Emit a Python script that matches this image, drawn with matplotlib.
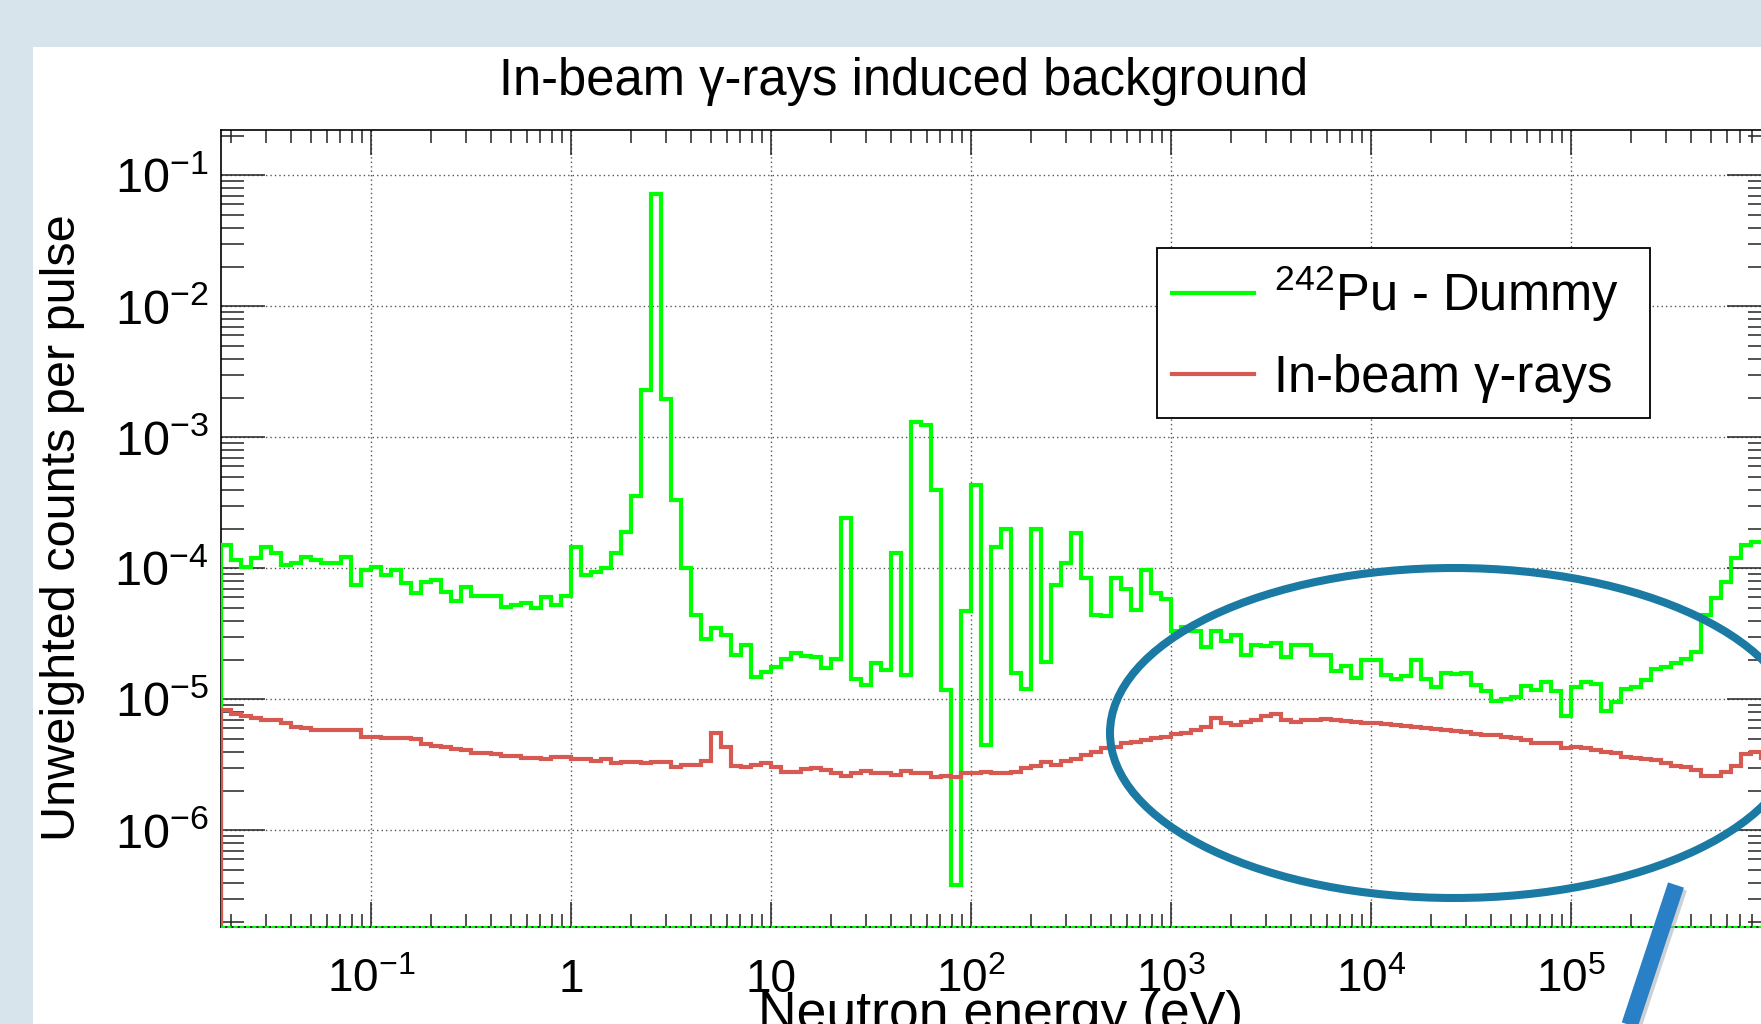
import numpy as np
import matplotlib
matplotlib.use("Agg")
import matplotlib.pyplot as plt
from matplotlib.patches import Ellipse, Rectangle
from matplotlib.lines import Line2D
from matplotlib.ticker import LogLocator, NullFormatter

plt.rcParams['font.family'] = ['Liberation Sans', 'DejaVu Sans']
plt.rcParams['mathtext.fontset'] = 'custom'
plt.rcParams['mathtext.rm'] = 'Liberation Sans'
plt.rcParams['mathtext.it'] = 'Liberation Sans:italic'
plt.rcParams['mathtext.bf'] = 'Liberation Sans:bold'

# histogram binning: equal log bins, 20 per decade
E_LOW = 10 ** -1.75
E_HIGH = 1e6
N_BINS = 155

# 242Pu - Dummy (counts per pulse, per bin)
pu_minus_dummy = [
    1.5e-4, 1.15e-4, 1.03e-4, 1.19e-4, 1.46e-4, 1.30e-4, 1.06e-4, 1.09e-4, 1.23e-4, 1.15e-4,
    1.09e-4, 1.09e-4, 1.23e-4, 7.5e-5, 9.7e-5, 1.03e-4, 8.9e-5, 9.7e-5, 7.7e-5, 6.45e-5,
    7.9e-5, 8.1e-5, 6.6e-5, 5.6e-5, 7.2e-5, 6.1e-5, 6.1e-5, 6.1e-5, 5.1e-5, 5.25e-5,
    5.4e-5, 5.0e-5, 6.0e-5, 5.25e-5, 6.15e-5, 1.46e-4, 8.9e-5, 9.4e-5, 1.0e-4, 1.3e-4,
    1.9e-4, 3.6e-4, 2.3e-3, 7.2e-2, 1.95e-3, 3.3e-4, 1.0e-4, 4.4e-5, 2.9e-5, 3.5e-5,
    3.1e-5, 2.2e-5, 2.6e-5, 1.48e-5, 1.62e-5, 1.78e-5, 2.05e-5, 2.24e-5, 2.15e-5, 2.1e-5,
    1.73e-5, 2.05e-5, 2.41e-4, 1.44e-5, 1.28e-5, 1.88e-5, 1.68e-5, 1.3e-4, 1.53e-5, 1.32e-3,
    1.24e-3, 3.98e-4, 1.18e-5, 3.8e-7, 4.7e-5, 4.3e-4, 4.5e-6, 1.46e-4, 2.0e-4, 1.58e-5,
    1.2e-5, 2.0e-4, 1.94e-5, 7.46e-5, 1.09e-4, 1.85e-4, 8.4e-5, 4.4e-5, 4.3e-5, 8.5e-5,
    7.0e-5, 4.8e-5, 9.7e-5, 6.5e-5, 5.8e-5, 3.3e-5, 3.6e-5, 3.3e-5, 2.5e-5, 3.3e-5,
    2.8e-5, 3.1e-5, 2.2e-5, 2.6e-5, 2.55e-5, 2.7e-5, 2.1e-5, 2.6e-5, 2.6e-5, 2.2e-5,
    2.2e-5, 1.65e-5, 1.8e-5, 1.45e-5, 2.0e-5, 2.0e-5, 1.53e-5, 1.42e-5, 1.52e-5, 2.0e-5,
    1.42e-5, 1.25e-5, 1.6e-5, 1.55e-5, 1.6e-5, 1.28e-5, 1.15e-5, 9.8e-6, 1.0e-5, 1.05e-5,
    1.27e-5, 1.18e-5, 1.35e-5, 1.15e-5, 7.5e-6, 1.25e-5, 1.35e-5, 1.32e-5, 8.2e-6, 9.5e-6,
    1.2e-5, 1.24e-5, 1.4e-5, 1.7e-5, 1.77e-5, 1.9e-5, 2.05e-5, 2.3e-5, 4.4e-5, 5.9e-5,
    7.9e-5, 1.2e-4, 1.5e-4, 1.6e-4, 1.6e-4,
]

# in-beam gamma-ray background
inbeam_gamma = [
    8.3e-6, 7.8e-6, 7.45e-6, 7.16e-6, 6.95e-6, 6.98e-6, 6.6e-6, 6.2e-6, 6.0e-6, 5.84e-6,
    5.8e-6, 5.8e-6, 5.84e-6, 5.84e-6, 5.18e-6, 5.15e-6, 5.03e-6, 5.1e-6, 5.1e-6, 5.0e-6,
    4.6e-6, 4.4e-6, 4.35e-6, 4.15e-6, 4.1e-6, 3.92e-6, 3.87e-6, 3.85e-6, 3.72e-6, 3.72e-6,
    3.6e-6, 3.55e-6, 3.5e-6, 3.65e-6, 3.65e-6, 3.5e-6, 3.5e-6, 3.4e-6, 3.5e-6, 3.25e-6,
    3.33e-6, 3.3e-6, 3.24e-6, 3.33e-6, 3.33e-6, 3.05e-6, 3.14e-6, 3.14e-6, 3.4e-6, 5.5e-6,
    4.35e-6, 3.1e-6, 3.05e-6, 3.13e-6, 3.25e-6, 3.06e-6, 2.8e-6, 2.8e-6, 2.95e-6, 2.98e-6,
    2.88e-6, 2.75e-6, 2.6e-6, 2.72e-6, 2.85e-6, 2.76e-6, 2.72e-6, 2.65e-6, 2.85e-6, 2.76e-6,
    2.76e-6, 2.57e-6, 2.6e-6, 2.57e-6, 2.76e-6, 2.72e-6, 2.8e-6, 2.72e-6, 2.72e-6, 2.8e-6,
    2.97e-6, 3.1e-6, 3.3e-6, 3.16e-6, 3.4e-6, 3.5e-6, 3.76e-6, 3.98e-6, 4.22e-6, 4.35e-6,
    4.61e-6, 4.7e-6, 4.9e-6, 5.1e-6, 5.2e-6, 5.4e-6, 5.5e-6, 5.84e-6, 6.2e-6, 7.2e-6,
    6.55e-6, 6.35e-6, 6.75e-6, 6.95e-6, 7.5e-6, 7.8e-6, 6.9e-6, 6.7e-6, 6.95e-6, 6.95e-6,
    7.1e-6, 6.9e-6, 6.8e-6, 6.7e-6, 6.6e-6, 6.55e-6, 6.5e-6, 6.4e-6, 6.3e-6, 6.2e-6,
    6.0e-6, 5.9e-6, 5.8e-6, 5.75e-6, 5.65e-6, 5.45e-6, 5.33e-6, 5.35e-6, 5.2e-6, 5.05e-6,
    4.9e-6, 4.62e-6, 4.62e-6, 4.62e-6, 4.25e-6, 4.3e-6, 4.25e-6, 4.1e-6, 3.95e-6, 3.87e-6,
    3.65e-6, 3.6e-6, 3.5e-6, 3.45e-6, 3.27e-6, 3.1e-6, 3.06e-6, 2.9e-6, 2.6e-6, 2.6e-6,
    2.8e-6, 3.1e-6, 3.8e-6, 4.0e-6, 3.6e-6,
]

x_ticks = [1e-1, 1, 10, 1e2, 1e3, 1e4, 1e5]
x_tick_labels = [r"$10^{-1}$", "1", "10", r"$10^{2}$", r"$10^{3}$", r"$10^{4}$", r"$10^{5}$"]
y_ticks = [1e-6, 1e-5, 1e-4, 1e-3, 1e-2, 1e-1]
y_tick_labels = [r"$10^{-6}$", r"$10^{-5}$", r"$10^{-4}$", r"$10^{-3}$", r"$10^{-2}$", r"$10^{-1}$"]

Y_MIN, Y_MAX = 1.83e-7, 0.222
GREEN = "#00ff00"
RED = "#d65a52"

edges = np.logspace(np.log10(E_LOW), np.log10(E_HIGH), N_BINS + 1)

W, H = 1761, 1024
fig = plt.figure(figsize=(W / 100, H / 100), dpi=100)
fig.patch.set_facecolor("#d7e4ec")
# white slide panel
fig.add_artist(Rectangle((33 / W, 0), 1.0, 1 - 47 / H, transform=fig.transFigure,
                         facecolor="white", edgecolor="none", zorder=-1))

ax = fig.add_axes([221 / W, 1 - 927 / H, (1771 - 221) / W, (927 - 130) / H])
ax.set_xscale("log")
ax.set_yscale("log")
ax.set_xlim(E_LOW, E_HIGH)
ax.set_ylim(Y_MIN, Y_MAX)

ax.stairs(pu_minus_dummy, edges, baseline=Y_MIN, color=GREEN, lw=3.0, zorder=3)
ax.stairs(inbeam_gamma, edges, baseline=Y_MIN, color=RED, lw=3.0, zorder=4)
ax.axhline(Y_MIN, color=GREEN, lw=1.5, ls=(0, (2, 1)), zorder=5, clip_on=False)

ax.grid(True, which="major", color="#555555", lw=1.0, ls=(0, (1, 2.2)))
ax.set_axisbelow(True)

ax.set_xticks(x_ticks, x_tick_labels)
ax.set_yticks(y_ticks, y_tick_labels)
ax.xaxis.set_minor_locator(LogLocator(base=10, subs=np.arange(2, 10), numticks=30))
ax.yaxis.set_minor_locator(LogLocator(base=10, subs=np.arange(2, 10), numticks=30))
ax.xaxis.set_minor_formatter(NullFormatter())
ax.yaxis.set_minor_formatter(NullFormatter())

ax.tick_params(which="both", direction="in", top=True, right=True, width=1.1, color="#222222")
ax.tick_params(axis="x", which="major", length=18, labelsize=33, pad=47)
ax.tick_params(axis="x", which="minor", length=9.4)
ax.tick_params(axis="y", which="major", length=32, labelsize=35, pad=9)
ax.tick_params(axis="y", which="minor", length=16.5)
for lbl in ax.get_xticklabels():
    lbl.set_va("baseline")
for sp in ax.spines.values():
    sp.set_linewidth(1.2)

handles = [Line2D([], [], color=GREEN, lw=3.0), Line2D([], [], color=RED, lw=3.0)]
leg = ax.legend(handles, [r"$^{242}$Pu - Dummy", "In-beam γ-rays"],
                loc="upper left", bbox_to_anchor=(0.604, 0.650, 0.318, 0.202),
                mode="expand", borderaxespad=0, fontsize=36.5, handlelength=1.6,
                handletextpad=0.4, borderpad=0.3, labelspacing=0.6,
                fancybox=False, framealpha=1, edgecolor="black")
leg.get_frame().set_linewidth(1.3)

fig.text(904 / W, 1 - 95 / H, "In-beam γ-rays induced background",
         ha="center", va="baseline", fontsize=36.5)
fig.text(63 / W, 1 - 528 / H, "Unweighted counts per pulse", rotation=90,
         ha="center", va="center", fontsize=35)
fig.text(1001 / W, 1 - 1029 / H, "Neutron energy (eV)", ha="center", va="baseline",
         fontsize=38.5)

# annotation on the slide
fig.add_artist(Ellipse((1454 / W, 1 - 733 / H), 688 / W, 330 / H, transform=fig.transFigure,
                       fill=False, edgecolor="#1b7aa3", lw=5.8, zorder=10))
fig.add_artist(Line2D([1679 / W, 1631 / W], [1 - 888 / H, 1 - 1033 / H], transform=fig.transFigure,
                      color="#9aa4ad", lw=12, alpha=0.5, solid_capstyle="butt", zorder=10))
fig.add_artist(Line2D([1676 / W, 1628 / W], [1 - 885 / H, 1 - 1030 / H], transform=fig.transFigure,
                      color="#2a80c6", lw=12, solid_capstyle="butt", zorder=11))

fig.savefig("out.png", dpi=100, facecolor=fig.get_facecolor())
